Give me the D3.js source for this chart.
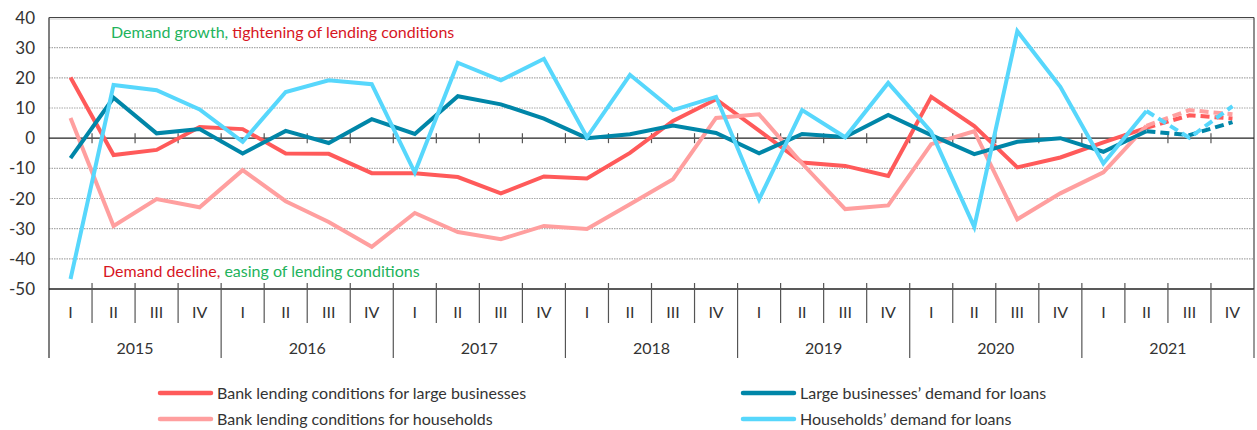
<!DOCTYPE html>
<html>
<head>
<meta charset="utf-8">
<script src="https://cdn.jsdelivr.net/npm/d3@7"></script>
<style>
  body { margin: 0; background: #fff; }
  svg text { font-family: Lato, "Noto Sans", sans-serif; fill: #333; }
</style>
</head>
<body>
<svg width="1257" height="430"></svg>
<script>
var years = ["2015", "2016", "2017", "2018", "2019", "2020", "2021"];
var quarters = ["I", "II", "III", "IV"];
var yTicks = [40, 30, 20, 10, 0, -10, -20, -30, -40, -50];

// survey balances, % (last two quarters of 2021 are expectations -> dashed)
var lendingBusiness = [20.1, -5.6, -3.9, 3.7, 3.0, -5.1, -5.2, -11.6, -11.6, -12.9, -18.3, -12.7,
  -13.4, -4.9, 5.7, 12.9, 2.5, -8.1, -9.2, -12.5, 13.7, 4.0, -9.7, -6.4, -1.4, 3.4, 7.6, 6.5];
var lendingHouseholds = [6.7, -29.1, -20.2, -22.9, -10.6, -20.9, -27.8, -36.0, -24.8, -31.1, -33.5, -29.1,
  -30.1, -21.9, -13.6, 6.7, 7.9, -8.4, -23.5, -22.3, -2.0, 2.3, -26.9, -18.3, -11.3, 4.1, 9.3, 7.9];
var demandBusiness = [-6.6, 13.4, 1.6, 3.0, -5.1, 2.4, -1.6, 6.3, 1.4, 13.9, 11.2, 6.5,
  0.0, 1.3, 4.2, 1.7, -5.0, 1.4, 0.4, 7.7, 1.0, -5.3, -1.2, 0.0, -4.5, 2.3, 1.0, 5.3];
var demandHouseholds = [-46.7, 17.6, 15.9, 9.5, -1.2, 15.3, 19.2, 17.9, -11.4, 25.0, 19.2, 26.3,
  0.3, 21.0, 9.3, 13.7, -20.3, 9.3, 0.3, 18.3, 2.1, -29.4, 35.5, 17.0, -8.4, 9.0, 0.1, 10.6];
var forecastFrom = 25; // index of 2021 Q2, dashed after it

var seriesNames = [
  "Bank lending conditions for large businesses",
  "Bank lending conditions for households",
  "Large businesses\u2019 demand for loans",
  "Households\u2019 demand for loans"
];
var seriesColors = ["#ff5a5a", "#ff9f9f", "#0086a8", "#57d7fc"];
var seriesValues = [lendingBusiness, lendingHouseholds, demandBusiness, demandHouseholds];

var keys = [];
years.forEach(function (y) { quarters.forEach(function (q) { keys.push(y + "-" + q); }); });

var svg = d3.select("svg");
var plotLeft = 49, plotRight = 1254, plotTop = 17.5, plotBottom = 289;

var x = d3.scaleBand().domain(keys).range([plotLeft, plotRight]);
var y = d3.scaleLinear().domain([-50, 40]).range([plotBottom, plotTop]);

// grid
svg.selectAll("line.grid")
  .data(yTicks.filter(function (d) { return d !== 0 && d !== -50 && d !== 40; }))
  .enter().append("line")
  .attr("x1", plotLeft).attr("x2", plotRight)
  .attr("y1", function (d) { return y(d); }).attr("y2", function (d) { return y(d); })
  .attr("stroke", "#a8a8a8").attr("stroke-width", 1.2).attr("stroke-dasharray", "1.5,1");

// frame
svg.append("line").attr("x1", plotLeft).attr("x2", plotRight).attr("y1", y(40)).attr("y2", y(40))
  .attr("stroke", "#444").attr("stroke-width", 1.2);
svg.append("line").attr("x1", plotLeft).attr("x2", plotRight).attr("y1", y(40) + 1.5).attr("y2", y(40) + 1.5)
  .attr("stroke", "#ccc").attr("stroke-width", 1);
svg.append("line").attr("x1", plotRight).attr("x2", plotRight).attr("y1", y(40)).attr("y2", plotBottom)
  .attr("stroke", "#444").attr("stroke-width", 1.2);
svg.append("line").attr("x1", plotLeft).attr("x2", plotLeft).attr("y1", y(40)).attr("y2", 358)
  .attr("stroke", "#555").attr("stroke-width", 1.5);

// y labels
svg.selectAll("text.ytick").data(yTicks).enter().append("text")
  .attr("x", 35).attr("y", function (d) { return y(d); })
  .attr("dy", "0.36em").attr("text-anchor", "end")
  .attr("font-size", 17)
  .text(function (d) { return d; });

// zero line and its ticks
var bounds = keys.slice(1).map(function (k) { return x(k); });
svg.append("line").attr("x1", plotLeft).attr("x2", plotRight).attr("y1", y(0)).attr("y2", y(0))
  .attr("stroke", "#222").attr("stroke-width", 1.3);
svg.selectAll("line.ztick").data(bounds).enter().append("line")
  .attr("x1", function (d) { return d; }).attr("x2", function (d) { return d; })
  .attr("y1", y(0) - 5).attr("y2", y(0) + 5)
  .attr("stroke", "#555").attr("stroke-width", 1.2);

// annotations
var ann1 = svg.append("text").attr("x", 111).attr("y", 38).attr("font-size", 16);
ann1.append("tspan").style("fill", "#22b35c").text("Demand growth, ");
ann1.append("tspan").style("fill", "#d7161f").text("tightening of lending conditions");
var ann2 = svg.append("text").attr("x", 103).attr("y", 277).attr("font-size", 16);
ann2.append("tspan").style("fill", "#d7161f").text("Demand decline, ");
ann2.append("tspan").style("fill", "#22b35c").text("easing of lending conditions");

// lines
var line = d3.line()
  .x(function (d) { return x(d.k) + x.bandwidth() / 2; })
  .y(function (d) { return y(d.v); });

seriesValues.forEach(function (vals, s) {
  var pts = vals.map(function (v, i) { return { k: keys[i], v: v }; });
  svg.append("path").datum(pts.slice(0, forecastFrom + 1))
    .attr("d", line).attr("fill", "none")
    .attr("stroke", seriesColors[s]).attr("stroke-width", 4)
    .attr("stroke-linejoin", "miter");
  svg.append("path").datum(pts.slice(forecastFrom))
    .attr("d", line).attr("fill", "none")
    .attr("stroke", seriesColors[s]).attr("stroke-width", 4)
    .attr("stroke-dasharray", "9,5");
});

// bottom axis
svg.append("line").attr("x1", plotLeft).attr("x2", plotRight).attr("y1", plotBottom).attr("y2", plotBottom)
  .attr("stroke", "#222").attr("stroke-width", 1.3);
svg.selectAll("line.qtick").data(bounds).enter().append("line")
  .attr("x1", function (d) { return d; }).attr("x2", function (d) { return d; })
  .attr("y1", plotBottom - 6)
  .attr("y2", function (d, i) { return (i + 1) % 4 === 0 ? 358 : 323; })
  .attr("stroke", "#555").attr("stroke-width", 1.2);
svg.append("line").attr("x1", plotRight).attr("x2", plotRight).attr("y1", plotBottom).attr("y2", 358)
  .attr("stroke", "#555").attr("stroke-width", 1.2);

svg.selectAll("text.qlabel").data(keys).enter().append("text")
  .attr("x", function (d) { return x(d) + x.bandwidth() / 2; })
  .attr("y", 312).attr("dy", "0.36em").attr("text-anchor", "middle")
  .attr("font-size", 16)
  .text(function (d) { return d.split("-")[1]; });

svg.selectAll("text.ylabel").data(years).enter().append("text")
  .attr("x", function (d) { return (x(d + "-I") + x(d + "-IV") + x.bandwidth()) / 2; })
  .attr("y", 348).attr("dy", "0.36em").attr("text-anchor", "middle")
  .attr("font-size", 16)
  .text(function (d) { return d; });

// legend
var legendPos = [[159, 393], [159, 419], [742, 393], [742, 419]];
seriesNames.forEach(function (name, s) {
  var p = legendPos[s];
  svg.append("line").attr("x1", p[0] + 1).attr("x2", p[0] + 52)
    .attr("y1", p[1]).attr("y2", p[1])
    .attr("stroke", seriesColors[s]).attr("stroke-width", 4.5).attr("stroke-linecap", "round");
  svg.append("text").attr("x", p[0] + 58).attr("y", p[1]).attr("dy", "0.36em")
    .attr("font-size", 16).text(name);
});
</script>
</body>
</html>
